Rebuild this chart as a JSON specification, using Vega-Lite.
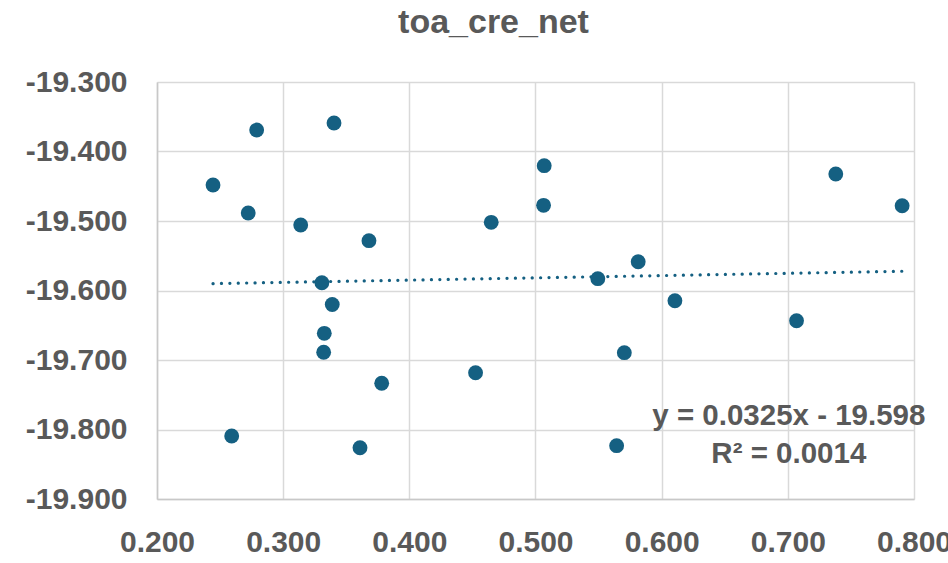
{
  "$schema": "https://vega.github.io/schema/vega-lite/v6.json",
  "width": 757,
  "height": 417,
  "autosize": {"type": "none"},
  "padding": {"left": 157, "top": 82, "right": 34, "bottom": 64},
  "background": "white",
  "title": {
    "text": "toa_cre_net",
    "font": "Liberation Sans",
    "fontSize": 34,
    "fontWeight": "bold",
    "color": "#595959",
    "anchor": "middle",
    "frame": "group",
    "dx": -42,
    "offset": 27
  },
  "config": {
    "view": {"stroke": null},
    "axis": {
      "labelFont": "Liberation Sans",
      "labelFontSize": 30,
      "labelFontWeight": "bold",
      "labelColor": "#595959",
      "gridColor": "#D9D9D9",
      "gridWidth": 1.5,
      "ticks": false,
      "domainColor": "#C8C8C8",
      "domainWidth": 1.5,
      "title": null
    }
  },
  "datasets": {
    "points": [
      {"x": 0.2444, "y": -19.4482},
      {"x": 0.2790, "y": -19.3691},
      {"x": 0.2723, "y": -19.4885},
      {"x": 0.2592, "y": -19.8094},
      {"x": 0.3139, "y": -19.5058},
      {"x": 0.3403, "y": -19.3590},
      {"x": 0.3307, "y": -19.5888},
      {"x": 0.3389, "y": -19.6201},
      {"x": 0.3326, "y": -19.6616},
      {"x": 0.3321, "y": -19.6889},
      {"x": 0.3680, "y": -19.5283},
      {"x": 0.3781, "y": -19.7335},
      {"x": 0.3609, "y": -19.8262},
      {"x": 0.4525, "y": -19.7183},
      {"x": 0.4649, "y": -19.5019},
      {"x": 0.5069, "y": -19.4204},
      {"x": 0.5064, "y": -19.4774},
      {"x": 0.5494, "y": -19.5830},
      {"x": 0.5704, "y": -19.6895},
      {"x": 0.5643, "y": -19.8233},
      {"x": 0.5814, "y": -19.5586},
      {"x": 0.6105, "y": -19.6147},
      {"x": 0.7069, "y": -19.6435},
      {"x": 0.7380, "y": -19.4324},
      {"x": 0.7906, "y": -19.4780}
    ],
    "trend": [
      {"x": 0.2444, "y": -19.5901},
      {"x": 0.7906, "y": -19.5723}
    ],
    "labels": [
      {"x": 0.7008, "y": -19.7806, "text": "y = 0.0325x - 19.598"},
      {"x": 0.7008, "y": -19.8353, "text": "R² = 0.0014"}
    ]
  },
  "layer": [
    {
      "data": {"name": "trend"},
      "mark": {"type": "line", "color": "#156082", "strokeWidth": 3.2, "strokeDash": [0.1, 8.3], "strokeCap": "round"},
      "encoding": {
        "x": {
          "field": "x", "type": "quantitative",
          "scale": {"domain": [0.2, 0.8], "nice": false, "zero": false},
          "axis": {"values": [0.2, 0.3, 0.4, 0.5, 0.6, 0.7, 0.8], "labelPadding": 28, "labelBaseline": "top", "labelExpr": "format(datum.value, '.3f')", "labelFlush": false, "labelOverlap": false}
        },
        "y": {
          "field": "y", "type": "quantitative",
          "scale": {"domain": [-19.9, -19.3], "nice": false, "zero": false},
          "axis": {"values": [-19.9, -19.8, -19.7, -19.6, -19.5, -19.4, -19.3], "labelPadding": 30, "labelExpr": "replace(format(datum.value, '.3f'), '−', '-')", "labelFlush": false, "labelOverlap": false}
        }
      }
    },
    {
      "data": {"name": "points"},
      "mark": {"type": "circle", "size": 220, "color": "#156082", "opacity": 1},
      "encoding": {
        "x": {"field": "x", "type": "quantitative"},
        "y": {"field": "y", "type": "quantitative"}
      }
    },
    {
      "data": {"name": "labels"},
      "mark": {"type": "text", "font": "Liberation Sans", "fontSize": 29.5, "fontWeight": "bold", "color": "#595959", "align": "center", "baseline": "middle"},
      "encoding": {
        "x": {"field": "x", "type": "quantitative"},
        "y": {"field": "y", "type": "quantitative"},
        "text": {"field": "text"}
      }
    }
  ]
}
